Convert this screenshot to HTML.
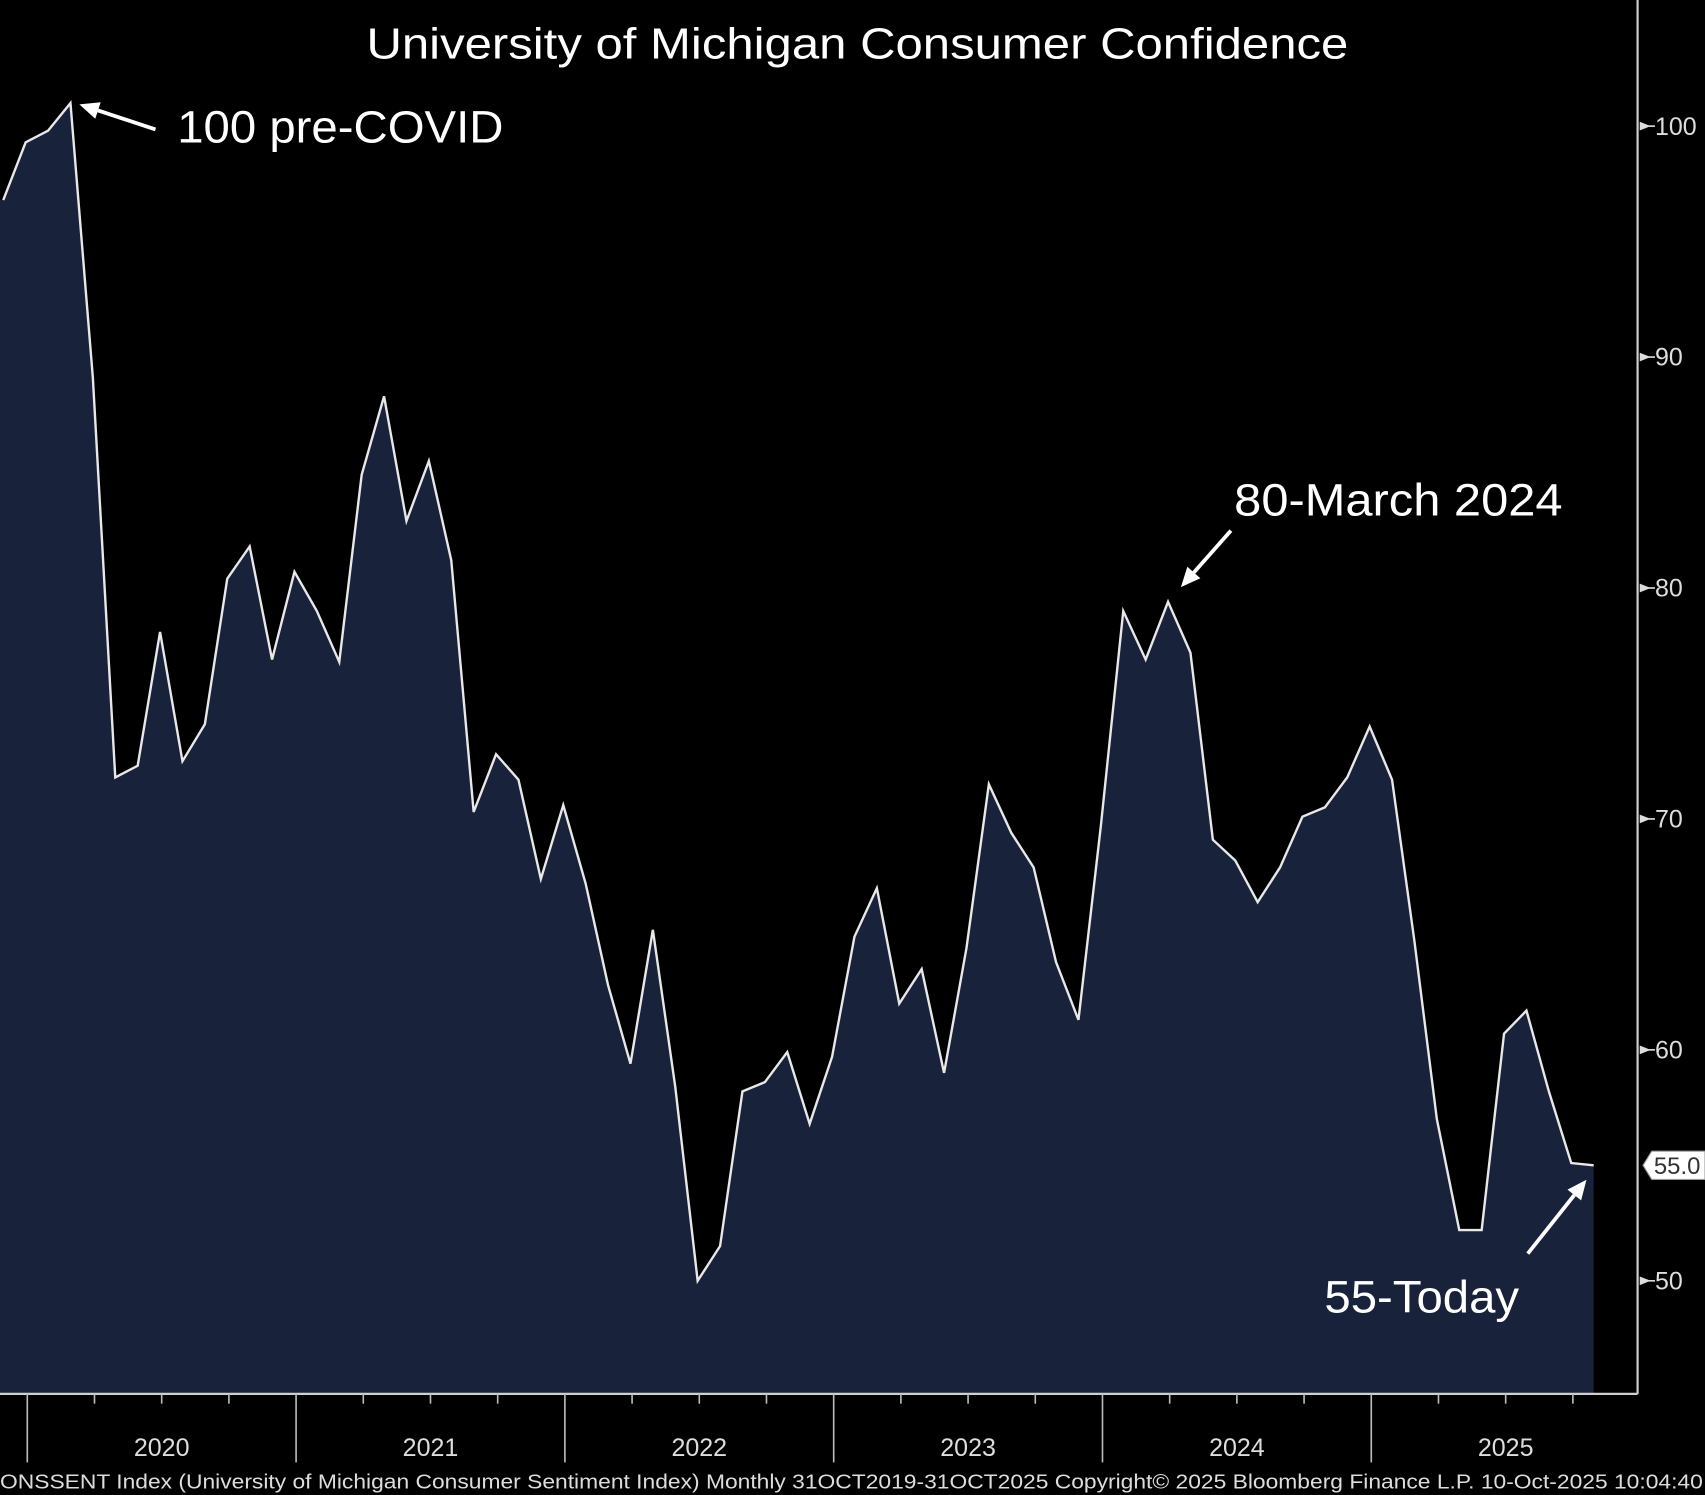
<!DOCTYPE html>
<html><head><meta charset="utf-8"><style>
html,body{margin:0;padding:0;background:#000;}
svg{display:block;}
</style></head><body>
<svg id="chart" width="1705" height="1495" viewBox="0 0 1568 1375" preserveAspectRatio="none" xmlns="http://www.w3.org/2000/svg">
<rect width="1568" height="1375" fill="#000"/>
<g id="plot"></g>
<text x="337" y="54" fill="#fff" font-family="Liberation Sans, sans-serif" font-size="40" textLength="903" lengthAdjust="spacingAndGlyphs">University of Michigan Consumer Confidence</text>
<text x="163" y="131" fill="#fff" font-family="Liberation Sans, sans-serif" font-size="42" textLength="300" lengthAdjust="spacingAndGlyphs">100 pre-COVID</text>
<text x="1135" y="474" fill="#fff" font-family="Liberation Sans, sans-serif" font-size="42" textLength="302" lengthAdjust="spacingAndGlyphs">80-March 2024</text>
<text x="1218" y="1207" fill="#fff" font-family="Liberation Sans, sans-serif" font-size="42" textLength="179" lengthAdjust="spacingAndGlyphs">55-Today</text>
<text x="0" y="1369" fill="#ddd" font-family="Liberation Sans Narrow, Liberation Sans, sans-serif" font-size="19" textLength="1566" lengthAdjust="spacingAndGlyphs">ONSSENT Index (University of Michigan Consumer Sentiment Index) Monthly 31OCT2019-31OCT2025  Copyright© 2025 Bloomberg Finance L.P.  10-Oct-2025 10:04:40</text>
</svg>
<script>
const startMonth = "2019-11";
const values = [96.8,99.3,99.8,101.0,89.1,71.8,72.3,78.1,72.5,74.1,80.4,81.8,76.9,80.7,
79.0,76.8,84.9,88.3,82.9,85.5,81.2,70.3,72.8,71.7,67.4,70.6,
67.2,62.8,59.4,65.2,58.4,50.0,51.5,58.2,58.6,59.9,56.8,59.7,
64.9,67.0,62.0,63.5,59.0,64.4,71.5,69.4,67.9,63.8,61.3,69.7,
79.0,76.9,79.4,77.2,69.1,68.2,66.4,67.9,70.1,70.5,71.8,74.0,
71.7,64.7,57.0,52.2,52.2,60.7,61.7,58.2,55.1,55.0];
const yTicks = [50,60,70,80,90,100];
const years = ["2020","2021","2022","2023","2024","2025"];
const lastLabel = "55.0";

const NS="http://www.w3.org/2000/svg";
const g=document.getElementById('plot');
const xs=i=>3+i*20.6;
const ys=v=>116+(100-v)*21.24;
const baseY=1282, axisX=1506;
function mk(tag,attrs,parent){const e=document.createElementNS(NS,tag);for(const k in attrs)e.setAttribute(k,attrs[k]);(parent||g).appendChild(e);return e;}

let pts=values.map((v,i)=>xs(i).toFixed(1)+','+ys(v).toFixed(1));
const area=mk('polygon',{points:'0,'+ys(values[0]).toFixed(1)+' '+pts.join(' ')+' '+xs(values.length-1)+','+baseY+' 0,'+baseY,fill:'#19223b'});


const line=mk('polyline',{points:pts.join(' '),fill:'none',stroke:'#e8e8e8','stroke-width':2.2,'stroke-linejoin':'miter'});



const xa=mk('line',{x1:0,y1:baseY,x2:axisX,y2:baseY,stroke:'#cfcfcf','stroke-width':2});


const ya=mk('line',{x1:axisX,y1:0,x2:axisX,y2:baseY,stroke:'#cfcfcf','stroke-width':2});



for(let i=1;i<values.length+2;i++){
  const m=(10+i)%12;
  const x=xs(i)+1.5;
  if(x>axisX) break;
  if(m===11){
    const t=mk('line',{x1:x,y1:baseY,x2:x,y2:1345,stroke:'#bbb','stroke-width':1.5});
    
    
  } else if(m%3===2){
    const t=mk('line',{x1:x,y1:baseY,x2:x,y2:1291,stroke:'#bbb','stroke-width':1.5});
    
    
  }
}
years.forEach((y,k)=>{
  const i=7+k*12;
  const t=mk('text',{x:xs(i)+1.5,y:1339,fill:'#ddd','font-family':'Liberation Sans Narrow, Liberation Sans, sans-serif','font-size':23,'text-anchor':'middle'});
  t.textContent=y;
  
  
});
yTicks.forEach(v=>{
  const y=ys(v);
  const m=mk('polygon',{points:(axisX+2)+','+(y-4)+' '+(axisX+12)+','+y+' '+(axisX+2)+','+(y+4),fill:'#ddd'});
  
  
  const l=mk('line',{x1:axisX+10,y1:y,x2:axisX+16,y2:y,stroke:'#ddd','stroke-width':1.5});
  
  
  const t=mk('text',{x:axisX+16,y:y+8,fill:'#ddd','font-family':'Liberation Sans Narrow, Liberation Sans, sans-serif','font-size':23});
  t.textContent=v;
  
  
});
const ly=ys(values[values.length-1]);
const tag=mk('polygon',{points:`1511,${ly} 1519,${ly-13} 1568,${ly-13} 1568,${ly+13} 1519,${ly+13}`,fill:'#fff',stroke:'#999','stroke-width':1});


const tt=mk('text',{x:1521,y:ly+8,fill:'#333','font-family':'Liberation Sans Narrow, Liberation Sans, sans-serif','font-size':22});
tt.textContent=lastLabel;



function arrow(x1,y1,x2,y2,name){
  const a=Math.atan2(y2-y1,x2-x1),L=18,W=8;
  const bx=x2-L*Math.cos(a),by=y2-L*Math.sin(a);
  const l=mk('line',{x1:x1,y1:y1,x2:bx,y2:by,stroke:'#fff','stroke-width':3.5});
  
  
  const h=mk('polygon',{points:`${x2},${y2} ${bx+W*Math.sin(a)},${by-W*Math.cos(a)} ${bx-W*Math.sin(a)},${by+W*Math.cos(a)}`,fill:'#fff'});
  
  
}
arrow(143,119,73,96,'arrow-pre-covid');
arrow(1132,488,1086,540,'arrow-march-2024');
arrow(1405,1153,1459,1085,'arrow-today');
</script>
</body></html>
